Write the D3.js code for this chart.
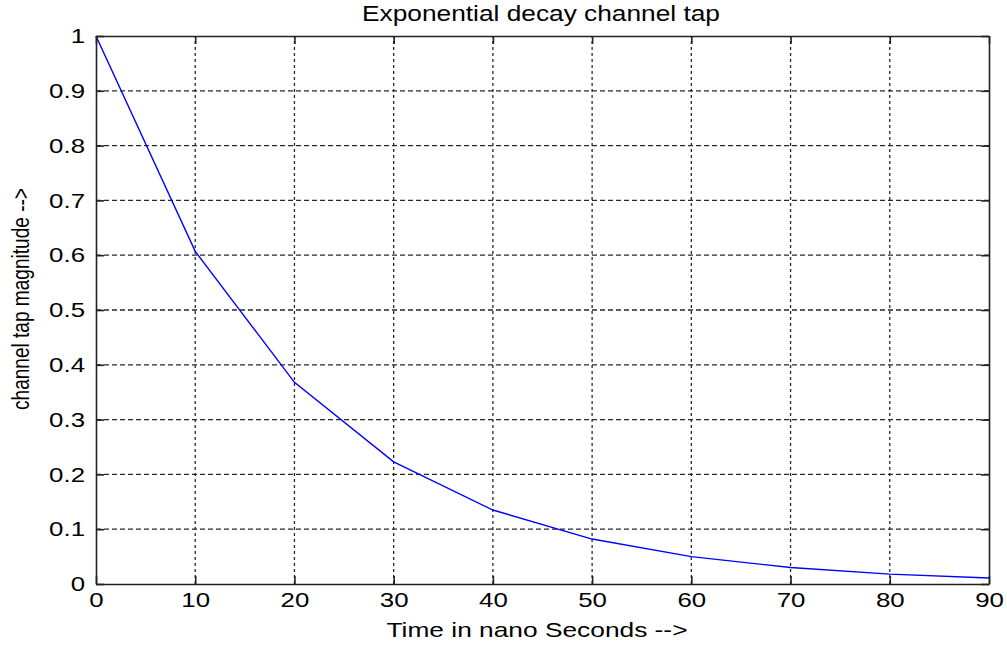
<!DOCTYPE html>
<html>
<head>
<meta charset="utf-8">
<script src="https://cdn.jsdelivr.net/npm/d3@7"></script>
<style>
  body { margin: 0; background: #fff; }
  svg { display: block; font-family: "Liberation Sans", Arial, sans-serif; }
</style>
</head>
<body>
<svg id="chart"></svg>
<script>
// data
const timeNs = [0, 10, 20, 30, 40, 50, 60, 70, 80, 90];
const tapMagnitude = [1, 0.607, 0.368, 0.223, 0.135, 0.082, 0.05, 0.03, 0.018, 0.011];
const xTicks = [0, 10, 20, 30, 40, 50, 60, 70, 80, 90];
const yTicks = [0, 0.1, 0.2, 0.3, 0.4, 0.5, 0.6, 0.7, 0.8, 0.9, 1];

const width = 1007;
const height = 645;
const margin = {top: 36, right: 18, bottom: 61, left: 96};
const stretch = 1.23; // picture is a bit wide, so tick text is widened too

const data = timeNs.map((t, i) => ({t, v: tapMagnitude[i]}));

const x = d3.scaleLinear()
  .domain([0, 90])
  .range([margin.left, width - margin.right]);
const y = d3.scaleLinear()
  .domain([0, 1])
  .range([height - margin.bottom, margin.top]);

const svg = d3.select("#chart")
  .attr("width", width)
  .attr("height", height);

// grid
const grid = svg.append("g")
  .attr("stroke", "#2a2a2a")
  .attr("stroke-width", 1.3);
grid.selectAll(".gx")
  .data(xTicks.slice(1, -1))
  .join("line")
    .attr("stroke-dasharray", "3,3")
    .attr("x1", d => x(d)).attr("x2", d => x(d))
    .attr("y1", y(0)).attr("y2", y(1));
grid.selectAll(".gy")
  .data(yTicks.slice(1, -1))
  .join("line")
    .attr("stroke-dasharray", "5,3")
    .attr("y1", d => y(d)).attr("y2", d => y(d))
    .attr("x1", x(0)).attr("x2", x(90));

// the curve
const line = d3.line()
  .x(d => x(d.t))
  .y(d => y(d.v));
svg.append("path")
  .datum(data)
  .attr("fill", "none")
  .attr("stroke", "#0000ff")
  .attr("stroke-width", 1.4)
  .attr("d", line);

// axes, ticks pointing inward like the original
const styleAxis = g => {
  g.select(".domain").attr("stroke", "#222").attr("stroke-width", 1.6);
  g.selectAll(".tick line").attr("stroke", "#222").attr("stroke-width", 1.6);
  g.selectAll(".tick text")
    .attr("font-size", 21)
    .attr("fill", "#000")
    .attr("transform", `scale(${stretch},1)`);
};

svg.append("g")
  .attr("transform", `translate(0,${y(0)})`)
  .call(d3.axisBottom(x).tickValues(xTicks).tickFormat(d3.format("d"))
    .tickSizeInner(-8).tickSizeOuter(0).tickPadding(8))
  .call(styleAxis)
  .call(g => g.selectAll(".tick text").attr("x", 0));

svg.append("g")
  .attr("transform", `translate(${x(0)},0)`)
  .call(d3.axisLeft(y).tickValues(yTicks).tickFormat(d => d === 0 || d === 1 ? d : d3.format(".1f")(d))
    .tickSizeInner(-8).tickSizeOuter(0).tickPadding(11))
  .call(styleAxis)
  .call(g => g.selectAll(".tick text").attr("x", -11 / stretch));

svg.append("g")
  .attr("transform", `translate(0,${y(1)})`)
  .call(d3.axisTop(x).tickValues(xTicks).tickFormat("")
    .tickSizeInner(-8).tickSizeOuter(0))
  .call(styleAxis);

svg.append("g")
  .attr("transform", `translate(${x(90)},0)`)
  .call(d3.axisRight(y).tickValues(yTicks).tickFormat("")
    .tickSizeInner(-8).tickSizeOuter(0))
  .call(styleAxis);

// labels
svg.append("text")
  .attr("x", 541)
  .attr("y", 21)
  .attr("text-anchor", "middle")
  .attr("font-size", 22)
  .attr("textLength", 358)
  .attr("lengthAdjust", "spacingAndGlyphs")
  .text("Exponential decay channel tap");

svg.append("text")
  .attr("x", 537)
  .attr("y", 637)
  .attr("text-anchor", "middle")
  .attr("font-size", 21)
  .attr("textLength", 301)
  .attr("lengthAdjust", "spacingAndGlyphs")
  .text("Time in nano Seconds -->");

svg.append("text")
  .attr("transform", "translate(29,299) rotate(-90)")
  .attr("text-anchor", "middle")
  .attr("font-size", 23)
  .attr("textLength", 222)
  .attr("lengthAdjust", "spacingAndGlyphs")
  .text("channel tap magnitude -->");
</script>
</body>
</html>
